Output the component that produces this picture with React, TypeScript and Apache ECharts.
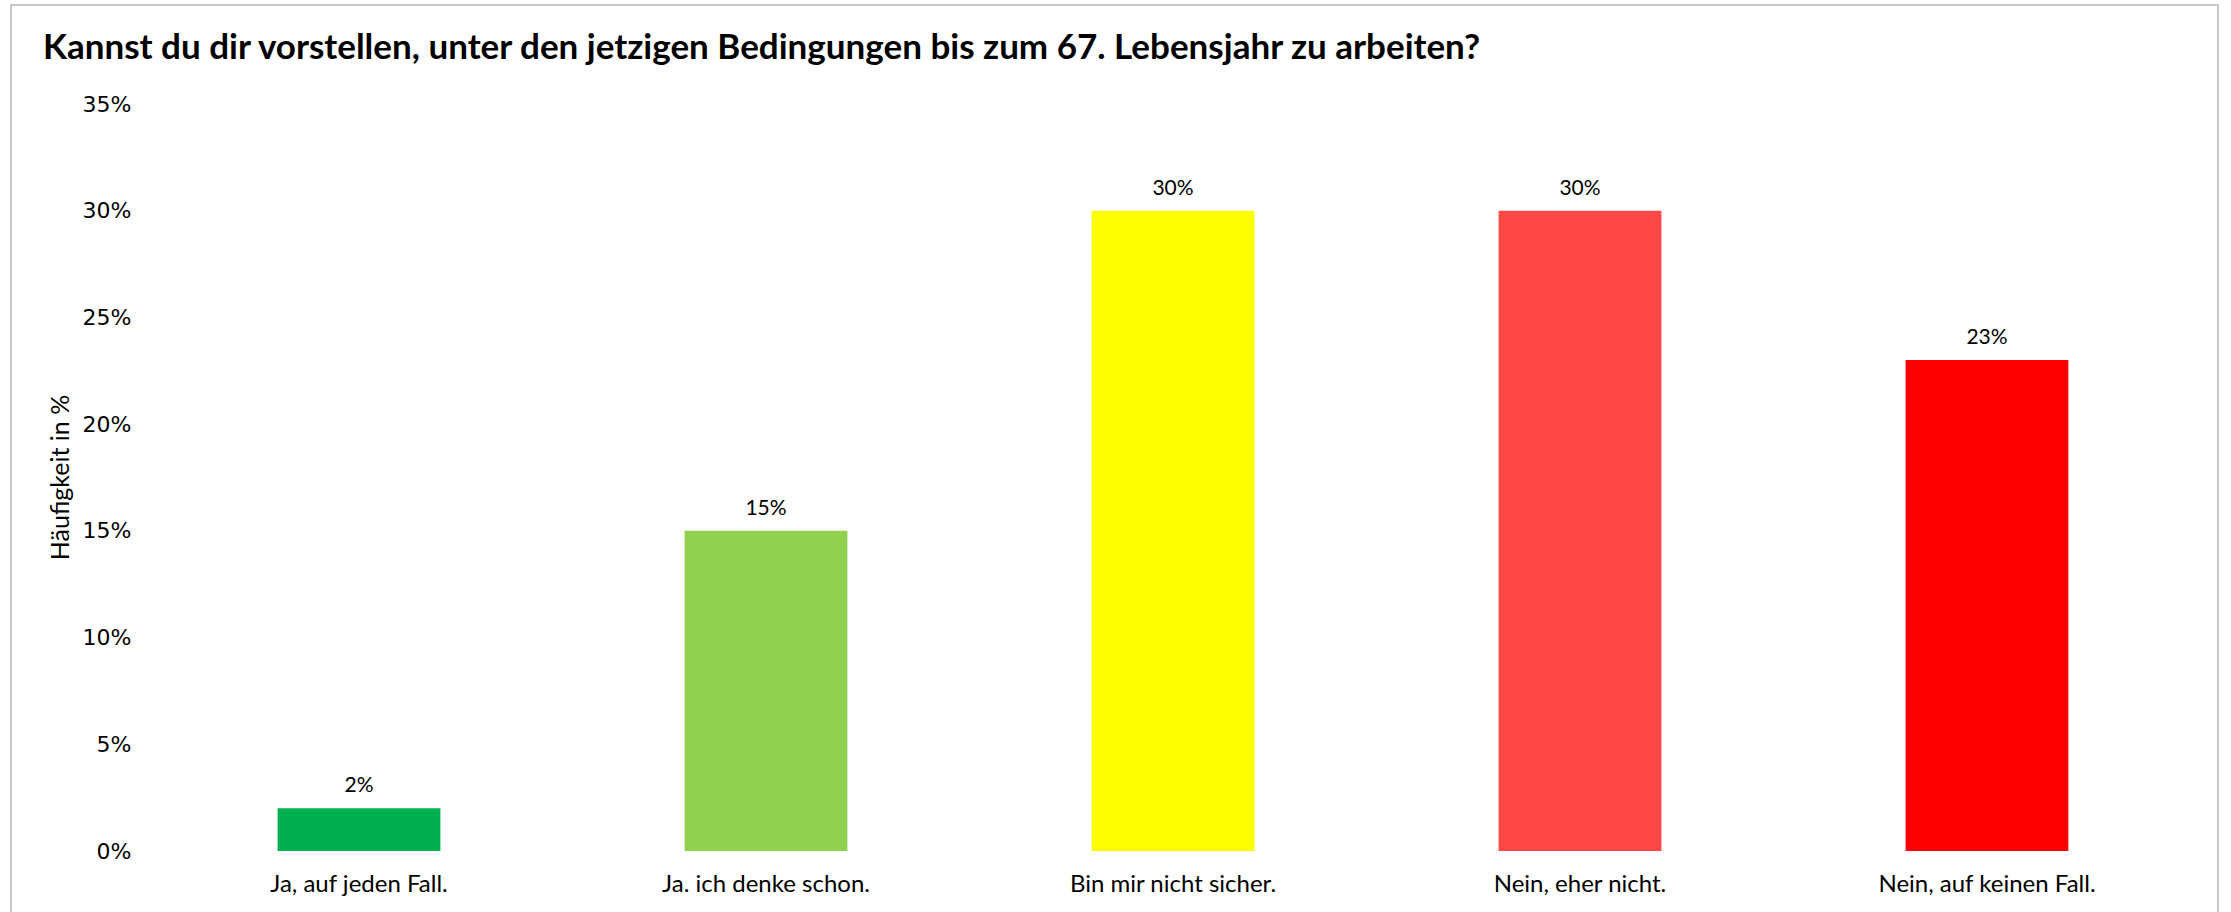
import React, { useEffect, useRef } from "react";
import * as echarts from "echarts";

const categories = [
  "Ja, auf jeden Fall.",
  "Ja. ich denke schon.",
  "Bin mir nicht sicher.",
  "Nein, eher nicht.",
  "Nein, auf keinen Fall.",
];
const values = [2, 15, 30, 30, 23];
const barColors = ["#00B050", "#92D050", "#FFFF00", "#FF4747", "#FF0000"];
const titleText =
  "Kannst du dir vorstellen, unter den jetzigen Bedingungen bis zum 67. Lebensjahr zu arbeiten?";
const yAxisName = "Häufigkeit in %";

export default function App() {
  const ref = useRef<HTMLDivElement>(null);
  useEffect(() => {
    if (!ref.current) return;
    const chart = echarts.init(ref.current, null, { renderer: "svg" });
    chart.setOption({
      animation: false,
      backgroundColor: "#ffffff",
      title: {
        text: titleText,
        left: 38,
        top: 22,
        textStyle: {
          fontFamily: "Lato",
          fontWeight: "bold",
          fontSize: 35,
          color: "#000000",
        },
      },
      graphic: [
        {
          type: "rect",
          shape: { x: 11, y: 5, width: 2207, height: 920 },
          style: { fill: "none", stroke: "#c8c8c8", lineWidth: 2 },
          silent: true,
        },
      ],
      grid: { left: 155.5, right: 40.5, top: 104, bottom: 61 },
      xAxis: {
        type: "category",
        data: categories,
        axisLine: { show: false },
        axisTick: { show: false },
        axisLabel: {
          margin: 19,
          fontFamily: "Lato",
          fontSize: 24,
          color: "#000000",
        },
      },
      yAxis: {
        type: "value",
        min: 0,
        max: 35,
        interval: 5,
        name: yAxisName,
        nameLocation: "middle",
        nameGap: 82,
        nameTextStyle: { fontFamily: "Lato", fontSize: 25, color: "#000000" },
        splitLine: { show: false },
        axisLine: { show: false },
        axisTick: { show: false },
        axisLabel: {
          margin: 24,
          formatter: "{value}%",
          fontFamily: "DejaVu Sans",
          fontSize: 22,
          color: "#000000",
        },
      },
      series: [
        {
          type: "bar",
          barWidth: "40%",
          data: values.map((v, i) => ({ value: v, itemStyle: { color: barColors[i] } })),
          label: {
            show: true,
            position: "top",
            distance: 14,
            formatter: "{c}%",
            fontFamily: "Lato",
            fontSize: 21,
            color: "#000000",
          },
        },
      ],
    });
    return () => chart.dispose();
  }, []);
  return (
    <div
      ref={ref}
      style={{ position: "absolute", left: 0, top: 0, width: 2231, height: 912 }}
    />
  );
}
